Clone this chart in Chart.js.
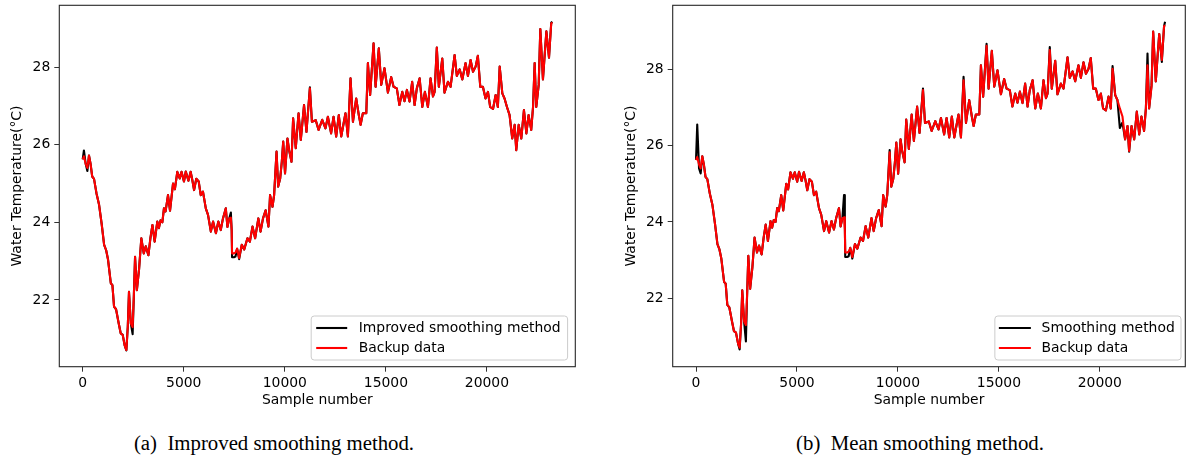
<!DOCTYPE html>
<html>
<head>
<meta charset="utf-8">
<script src="https://cdn.jsdelivr.net/npm/chart.js@4.4.0/dist/chart.umd.min.js"></script>
<style>
  html, body { margin: 0; padding: 0; background: #fff; }
  #wrap { position: relative; width: 1186px; height: 460px; overflow: hidden; background: #fff; }
  canvas { position: absolute; top: 0; }
  #panelA { left: 0; }
  #panelB { left: 593px; }
  .cap {
    position: absolute; top: 431px;
    font-family: "Liberation Serif", "Times New Roman", serif;
    font-size: 20.8px; color: #000; white-space: pre;
    transform: translateX(-50%);
  }
</style>
</head>
<body>
<div id="wrap">
  <canvas id="panelA" width="593" height="420"></canvas>
  <canvas id="panelB" width="593" height="420"></canvas>
  <div class="cap" style="left:274px">(a)  Improved smoothing method.</div>
  <div class="cap" style="left:920px">(b)  Mean smoothing method.</div>
</div>
<script>
// Sample positions shared by every series
const sampleNumber = [
  0, 60, 150, 230, 310, 390, 470, 560, 680, 810,
  940, 1060, 1160, 1250, 1390, 1470, 1550, 1650, 1780, 1880,
  1980, 2080, 2160, 2230, 2290, 2380, 2470, 2530, 2590, 2680,
  2790, 2900, 3020, 3120, 3250, 3350, 3450, 3560, 3690, 3770,
  3850, 3940, 4020, 4100, 4220, 4320, 4470, 4560, 4680, 4800,
  4890, 5010, 5100, 5230, 5340, 5420, 5510, 5620, 5740, 5840,
  5950, 6090, 6200, 6340, 6450, 6590, 6710, 6830, 6940, 7080,
  7160, 7250, 7330, 7370, 7390, 7480, 7560, 7640, 7740, 7870,
  7990, 8150, 8270, 8400, 8530, 8690, 8800, 8920, 9050, 9190,
  9270, 9390, 9470, 9590, 9670, 9770, 9850, 9920, 10010, 10130,
  10210, 10330, 10410, 10540, 10680, 10790, 10950, 11070, 11240, 11340,
  11530, 11670, 11850, 12010, 12130, 12290, 12410, 12540, 12670, 12790,
  13000, 13120, 13250, 13370, 13530, 13660, 13750, 13860, 14030, 14110,
  14220, 14390, 14490, 14650, 14770, 14930, 15100, 15260, 15380, 15540,
  15670, 15810, 15920, 16040, 16170, 16300, 16420, 16530, 16670, 16800,
  16930, 17080, 17210, 17330, 17410, 17520, 17620, 17790, 17900, 18070,
  18200, 18400, 18510, 18650, 18780, 18940, 19060, 19190, 19310, 19440,
  19550, 19670, 19800, 19930, 20050, 20160, 20300, 20430, 20540, 20630,
  20760, 20870, 20990, 21120, 21250, 21370, 21450, 21570, 21700, 21830,
  21950, 22060, 22190, 22280, 22360, 22440, 22560, 22640, 22770, 22940,
  23070, 23180, 23230
];

// Backup sensor record (°C)
const backupData = [
  25.62, 25.70, 25.50, 25.40, 25.72, 25.50, 25.18, 25.12, 24.75, 24.45,
  23.95, 23.42, 23.28, 23.05, 22.43, 22.38, 21.83, 21.76, 21.40, 21.14,
  21.10, 20.82, 20.71, 21.31, 22.21, 21.40, 21.30, 22.10, 23.11, 22.25,
  22.80, 23.59, 23.20, 23.38, 23.15, 23.59, 23.93, 23.50, 24.02, 23.85,
  24.05, 24.00, 24.36, 24.28, 24.70, 24.30, 25.00, 24.85, 25.30, 25.13,
  25.30, 25.05, 25.31, 25.07, 25.30, 25.10, 24.83, 25.12, 25.05, 24.70,
  24.79, 24.36, 24.19, 23.76, 24.02, 23.72, 24.02, 23.80, 24.10, 24.36,
  23.88, 24.10, 24.12, 23.80, 23.20, 23.20, 23.22, 23.32, 23.08, 23.42,
  23.30, 23.59, 23.50, 23.89, 23.59, 24.10, 23.76, 24.10, 24.31, 23.89,
  24.70, 24.40, 24.70, 25.82, 24.92, 25.13, 25.56, 26.08, 25.26, 26.16,
  25.86, 25.56, 26.68, 25.91, 26.81, 26.12, 27.02, 26.33, 27.45, 26.59,
  26.63, 26.38, 26.64, 26.42, 26.72, 26.29, 26.72, 26.21, 26.76, 26.21,
  26.81, 26.21, 27.71, 26.59, 27.19, 26.76, 26.51, 26.81, 26.81, 28.10,
  27.28, 28.61, 27.49, 28.48, 27.54, 27.97, 27.34, 27.74, 27.49, 27.45,
  27.02, 27.36, 27.12, 27.41, 27.11, 27.62, 27.02, 27.45, 27.71, 26.97,
  27.36, 26.97, 27.71, 27.24, 27.36, 28.50, 27.49, 28.22, 27.34, 27.62,
  27.49, 28.31, 27.77, 27.94, 27.68, 28.10, 27.77, 28.18, 27.88, 28.01,
  28.29, 27.49, 27.49, 27.19, 27.36, 26.97, 26.92, 27.28, 26.97, 28.01,
  27.32, 27.19, 26.97, 26.76, 26.16, 26.51, 25.86, 26.51, 26.16, 26.89,
  26.29, 26.76, 26.38, 26.97, 28.10, 26.97, 27.54, 28.98, 27.68, 28.92,
  28.24, 29.12, 29.15
];

// Output of the improved smoothing method (°C)
const improvedData = [
  25.62, 25.85, 25.50, 25.32, 25.72, 25.50, 25.18, 25.12, 24.75, 24.45,
  23.95, 23.42, 23.28, 23.05, 22.43, 22.38, 21.83, 21.76, 21.40, 21.14,
  21.10, 20.82, 20.70, 21.31, 22.21, 21.40, 21.12, 22.10, 23.11, 22.25,
  22.80, 23.59, 23.20, 23.38, 23.15, 23.59, 23.93, 23.50, 24.02, 23.85,
  24.05, 24.00, 24.36, 24.28, 24.70, 24.30, 25.00, 24.85, 25.30, 25.13,
  25.30, 25.05, 25.31, 25.07, 25.30, 25.10, 24.83, 25.12, 25.05, 24.70,
  24.79, 24.36, 24.19, 23.76, 24.02, 23.72, 24.02, 23.80, 24.10, 24.36,
  23.88, 24.10, 24.25, 23.80, 23.10, 23.10, 23.12, 23.32, 23.05, 23.42,
  23.30, 23.59, 23.50, 23.89, 23.59, 24.10, 23.76, 24.10, 24.31, 23.89,
  24.70, 24.40, 24.70, 25.82, 24.92, 25.13, 25.56, 26.08, 25.26, 26.16,
  25.86, 25.56, 26.68, 25.91, 26.81, 26.12, 27.02, 26.33, 27.48, 26.59,
  26.63, 26.38, 26.64, 26.42, 26.72, 26.29, 26.72, 26.21, 26.76, 26.21,
  26.81, 26.21, 27.71, 26.59, 27.19, 26.76, 26.51, 26.81, 26.81, 28.10,
  27.28, 28.61, 27.49, 28.48, 27.54, 27.97, 27.34, 27.74, 27.49, 27.45,
  27.02, 27.36, 27.12, 27.41, 27.11, 27.62, 27.02, 27.45, 27.71, 26.97,
  27.36, 26.97, 27.71, 27.24, 27.36, 28.50, 27.49, 28.22, 27.34, 27.62,
  27.49, 28.31, 27.77, 27.94, 27.68, 28.10, 27.77, 28.18, 27.88, 28.01,
  28.29, 27.49, 27.49, 27.19, 27.36, 26.97, 26.92, 27.28, 26.97, 28.01,
  27.32, 27.19, 26.97, 26.76, 26.16, 26.51, 25.86, 26.51, 26.16, 26.89,
  26.29, 26.76, 26.38, 26.97, 28.10, 26.97, 27.54, 28.98, 27.68, 28.92,
  28.24, 29.14, 29.17
];

// Output of the mean smoothing method (°C)
const meanData = [
  25.62, 26.55, 25.40, 25.27, 25.72, 25.50, 25.18, 25.12, 24.75, 24.45,
  23.95, 23.42, 23.28, 23.05, 22.43, 22.38, 21.83, 21.76, 21.40, 21.14,
  21.10, 20.82, 20.66, 21.31, 22.21, 21.40, 20.87, 22.10, 23.11, 22.25,
  22.80, 23.59, 23.20, 23.38, 23.15, 23.59, 23.93, 23.50, 24.02, 23.85,
  24.05, 24.00, 24.36, 24.28, 24.70, 24.30, 25.00, 24.85, 25.30, 25.13,
  25.30, 25.05, 25.31, 25.07, 25.30, 25.10, 24.83, 25.12, 25.05, 24.70,
  24.79, 24.36, 24.19, 23.76, 24.02, 23.72, 24.02, 23.80, 24.10, 24.36,
  23.88, 24.10, 24.70, 24.00, 23.08, 23.08, 23.10, 23.32, 23.04, 23.42,
  23.30, 23.59, 23.50, 23.89, 23.59, 24.10, 23.76, 24.10, 24.31, 23.89,
  24.70, 24.40, 24.70, 25.88, 24.92, 25.13, 25.56, 26.08, 25.26, 26.16,
  25.86, 25.56, 26.68, 25.91, 26.81, 26.12, 27.02, 26.33, 27.49, 26.59,
  26.63, 26.38, 26.64, 26.42, 26.72, 26.29, 26.72, 26.21, 26.76, 26.21,
  26.81, 26.21, 27.80, 26.59, 27.19, 26.76, 26.51, 26.81, 26.81, 28.10,
  27.28, 28.66, 27.49, 28.48, 27.54, 27.97, 27.34, 27.74, 27.49, 27.45,
  27.02, 27.36, 27.12, 27.41, 27.11, 27.62, 27.02, 27.45, 27.71, 26.97,
  27.36, 26.97, 27.71, 27.24, 27.36, 28.58, 27.49, 28.22, 27.34, 27.62,
  27.49, 28.31, 27.77, 27.94, 27.68, 28.10, 27.77, 28.18, 27.88, 28.01,
  28.29, 27.49, 27.49, 27.19, 27.36, 26.97, 26.92, 27.28, 26.97, 28.08,
  27.32, 27.19, 26.46, 26.60, 26.16, 26.51, 25.84, 26.51, 26.16, 26.89,
  26.29, 26.76, 26.38, 26.97, 28.41, 26.97, 27.58, 28.98, 27.68, 28.92,
  28.19, 29.12, 29.24
];

const xTickValues = [0, 5000, 10000, 15000, 20000];
const yTickValues = [22, 24, 26, 28];

const xTitle = 'Sample number';
const yTitle = 'Water Temperature(°C)';
const backupLabel = 'Backup data';

const FONT = { family: 'DejaVu Sans', size: 13.9 };

function toPoints(values) {
  return values.map((v, i) => ({ x: sampleNumber[i], y: v }));
}

// Axes frame plus a boxed legend in the lower-right corner of the plot area
const frameAndLegend = {
  id: 'frameAndLegend',
  afterDraw(chart, args, o) {
    const { ctx, chartArea: a } = chart;
    ctx.save();
    ctx.strokeStyle = '#262626';
    ctx.lineWidth = 1.1;
    ctx.strokeRect(a.left, a.top, a.right - a.left, a.bottom - a.top);

    ctx.font = FONT.size + 'px "' + FONT.family + '"';
    const items = chart.data.datasets.map(d => ({ label: d.label, color: d.borderColor }));
    const textW = Math.max(...items.map(it => ctx.measureText(it.label).width));
    const w = o.padL + o.lineLen + o.gap + textW + o.padR;
    const h = o.rowH * items.length + o.padV * 2;
    const x0 = a.right - o.marginR - w;
    const y0 = a.bottom - o.marginB - h;

    ctx.beginPath();
    ctx.roundRect(x0, y0, w, h, 3);
    ctx.fillStyle = 'rgba(255,255,255,0.8)';
    ctx.fill();
    ctx.strokeStyle = '#cccccc';
    ctx.lineWidth = 1;
    ctx.stroke();

    items.forEach((it, i) => {
      const cy = y0 + o.padV + o.rowH * (i + 0.5);
      ctx.beginPath();
      ctx.moveTo(x0 + o.padL, cy);
      ctx.lineTo(x0 + o.padL + o.lineLen, cy);
      ctx.strokeStyle = it.color;
      ctx.lineWidth = 2.1;
      ctx.stroke();
      ctx.fillStyle = '#000';
      ctx.textAlign = 'left';
      ctx.textBaseline = 'middle';
      ctx.fillText(it.label, x0 + o.padL + o.lineLen + o.gap, cy);
    });
    ctx.restore();
  }
};

function makePanel(canvasId, smoothLabel, smoothValues, cfg) {
  return new Chart(document.getElementById(canvasId), {
    type: 'line',
    data: {
      datasets: [
        {
          label: smoothLabel, data: toPoints(smoothValues),
          borderColor: '#000000', borderWidth: 2.1, pointRadius: 0,
          tension: 0, borderJoinStyle: 'round', order: 1
        },
        {
          label: backupLabel, data: toPoints(backupData),
          borderColor: '#ff0000', borderWidth: 2.1, pointRadius: 0,
          tension: 0, borderJoinStyle: 'round', order: 0
        }
      ]
    },
    options: {
      responsive: false,
      animation: false,
      devicePixelRatio: 1,
      layout: { padding: { left: 0, right: cfg.padRight, top: 5.3, bottom: 0 } },
      plugins: {
        legend: { display: false },
        tooltip: { enabled: false },
        frameAndLegend: cfg.legend
      },
      scales: {
        x: {
          type: 'linear', position: 'bottom',
          min: cfg.xMin, max: cfg.xMax,
          afterBuildTicks: s => { s.ticks = xTickValues.map(v => ({ value: v })); },
          afterFit: s => { s.height = 53.3; s.paddingLeft = 0; s.paddingRight = 0; },
          ticks: { font: FONT, color: '#000', padding: 3, maxRotation: 0, autoSkip: false,
                   callback: v => String(v) },
          grid: { display: true, drawOnChartArea: false, drawTicks: true,
                  tickLength: 5, tickColor: '#333', tickWidth: 1 },
          border: { display: false },
          title: { display: true, text: xTitle, font: FONT, color: '#000',
                   padding: { top: 0, bottom: 11 } }
        },
        y: {
          type: 'linear', position: 'left',
          min: cfg.yMin, max: cfg.yMax,
          afterBuildTicks: s => { s.ticks = yTickValues.map(v => ({ value: v })); },
          afterFit: s => { s.width = cfg.yAxisWidth; s.paddingTop = 0; s.paddingBottom = 0; },
          ticks: { font: FONT, color: '#000', padding: 4, autoSkip: false,
                   callback: v => String(v) },
          grid: { display: true, drawOnChartArea: false, drawTicks: true,
                  tickLength: 5, tickColor: '#333', tickWidth: 1 },
          border: { display: false },
          title: { display: true, text: yTitle, font: FONT, color: '#000',
                   padding: { top: cfg.yTitlePad, bottom: 0 } }
        }
      }
    },
    plugins: [frameAndLegend]
  });
}

makePanel('panelA', 'Improved smoothing method', improvedData, {
  xMin: -1158, xMax: 24371, yMin: 20.28, yMax: 29.59,
  yAxisWidth: 59.3, yTitlePad: 9.2, padRight: 17.7,
  legend: { padL: 5, lineLen: 31, gap: 11.5, padR: 7, rowH: 20, padV: 2, marginR: 7.7, marginB: 6.7 }
});

makePanel('panelB', 'Smoothing method', meanData, {
  xMin: -1155, xMax: 24232, yMin: 20.21, yMax: 29.67,
  yAxisWidth: 79.7, yTitlePad: 29.7, padRight: 0.7,
  legend: { padL: 4, lineLen: 32, gap: 10.7, padR: 6.3, rowH: 20, padV: 2, marginR: 4.3, marginB: 6.7 }
});
</script>
</body>
</html>
